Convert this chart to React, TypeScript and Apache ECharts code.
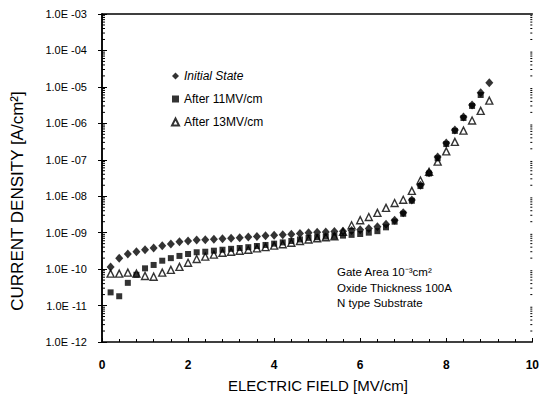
import React, { useEffect, useRef } from "react";
import * as echarts from "echarts";

const fieldX = [
  0.2, 0.4, 0.6, 0.8, 1.0, 1.2, 1.4, 1.6, 1.8, 2.0,
  2.2, 2.4, 2.6, 2.8, 3.0, 3.2, 3.4, 3.6, 3.8, 4.0,
  4.2, 4.4, 4.6, 4.8, 5.0, 5.2, 5.4, 5.6, 5.8, 6.0,
  6.2, 6.4, 6.6, 6.8, 7.0, 7.2, 7.4, 7.6, 7.8, 8.0,
  8.2, 8.4, 8.6, 8.8, 9.0,
];

const initialState = [
  1.15e-10, 2.0e-10, 2.6e-10, 3.0e-10, 3.4e-10, 3.8e-10, 4.4e-10, 4.9e-10, 5.6e-10, 5.9e-10,
  6.3e-10, 6.4e-10, 6.6e-10, 6.8e-10, 7.0e-10, 7.3e-10, 7.6e-10, 7.9e-10, 8.2e-10, 8.5e-10,
  8.8e-10, 9.1e-10, 9.5e-10, 1.0e-9, 1.02e-9, 1.05e-9, 1.08e-9, 1.1e-9, 1.15e-9, 1.2e-9,
  1.3e-9, 1.45e-9, 1.7e-9, 2.2e-9, 3.5e-9, 7.9e-9, 2.0e-8, 4.4e-8, 1.2e-7, 2.9e-7,
  6.6e-7, 1.5e-6, 3.2e-6, 6.9e-6, 1.3e-5,
];

const after11 = [
  2.3e-11, 1.8e-11, 4.2e-11, 7.0e-11, 1.05e-10, 1.3e-10, 1.7e-10, 2.0e-10, 2.3e-10, 2.6e-10,
  2.9e-10, 3.0e-10, 3.2e-10, 3.4e-10, 3.6e-10, 3.8e-10, 4.0e-10, 4.3e-10, 4.6e-10, 5.0e-10,
  5.4e-10, 5.9e-10, 6.5e-10, 7.2e-10, 7.5e-10, 7.8e-10, 8.0e-10, 8.3e-10, 8.7e-10, 9.2e-10,
  1.0e-9, 1.1e-9, 1.4e-9, 2.0e-9, 3.3e-9, 7.5e-9, 1.9e-8, 4.2e-8, 1.1e-7, 2.7e-7,
  6.2e-7, 1.4e-6, 3.0e-6, 6.0e-6,
];

const after13 = [
  7.5e-11, 7.5e-11, 8.0e-11, 7.5e-11, 6.5e-11, 6.2e-11, 8.0e-11, 9.5e-11, 1.15e-10, 1.5e-10,
  1.9e-10, 2.2e-10, 2.5e-10, 2.8e-10, 3.0e-10, 3.2e-10, 3.4e-10, 3.7e-10, 4.0e-10, 4.4e-10,
  4.8e-10, 5.3e-10, 5.9e-10, 6.5e-10, 7.0e-10, 7.5e-10, 8.0e-10, 1.05e-9, 1.6e-9, 2.2e-9,
  2.7e-9, 3.5e-9, 4.8e-9, 6.5e-9, 8.0e-9, 1.4e-8, 2.7e-8, 4.7e-8, 8.9e-8, 1.7e-7,
  3.1e-7, 6.3e-7, 1.2e-6, 2.2e-6, 4.2e-6,
];

const seriesNames = ["Initial State", "After 11MV/cm", "After 13MV/cm"];
const yTickLabels = [
  "1.0E -12", "1.0E -11", "1.0E -10", "1.0E -09", "1.0E -08",
  "1.0E -07", "1.0E -06", "1.0E -05", "1.0E -04", "1.0E -03",
];
const xTickLabels = ["0", "2", "4", "6", "8", "10"];
const noteLines = ["Gate Area 10\u207B\u00B3cm\u00B2", "Oxide Thickness 100A", "N type Substrate"];

const FONT = "'Liberation Sans', Arial, sans-serif";

function pair(xs: number[], ys: number[]) {
  return ys.map((y, i) => [xs[i], y]);
}

export default function App() {
  const ref = useRef<HTMLDivElement>(null);
  useEffect(() => {
    if (!ref.current) return;
    const chart = echarts.init(ref.current, null, { renderer: "svg" });
    const minorTicks: number[][] = [];
    for (let e = -12; e < -3; e++) {
      for (let m = 2; m <= 9; m++) minorTicks.push([0, m * Math.pow(10, e)]);
    }
    const axisBlack = { lineStyle: { color: "#000", width: 1.5 } };
    chart.setOption({
      animation: false,
      backgroundColor: "#fff",
      grid: { left: 102, right: 7, top: 14, bottom: 57 },
      xAxis: [
        {
          type: "value",
          min: 0,
          max: 10,
          interval: 2,
          axisLine: axisBlack,
          axisTick: { inside: true, length: 4, lineStyle: { color: "#000" } },
          minorTick: { show: true, splitNumber: 5, length: 3, lineStyle: { color: "#000" } },
          splitLine: { show: false },
          axisLabel: {
            margin: 17,
            color: "#000",
            fontSize: 12,
            fontWeight: "bold",
            fontFamily: FONT,
            formatter: (v: number) => xTickLabels[Math.round(v / 2)],
          },
        },
        {
          type: "value",
          position: "top",
          min: 0,
          max: 10,
          axisLine: { show: true, onZero: false, lineStyle: { color: "#000", width: 1.5 } },
          axisTick: { show: false },
          axisLabel: { show: false },
          splitLine: { show: false },
        },
      ],
      yAxis: [
        {
          type: "log",
          logBase: 10,
          min: 1e-12,
          max: 1e-3,
          splitNumber: 9,
          axisLine: { show: true, lineStyle: { color: "#000", width: 1.5 } },
          axisTick: { show: true, inside: true, length: 5, lineStyle: { color: "#000" } },
          splitLine: { show: false },
          axisLabel: {
            margin: 15,
            color: "#000",
            fontSize: 11,
            fontFamily: FONT,
            formatter: (v: number) => yTickLabels[Math.round(Math.log10(v)) + 12],
          },
        },
        {
          type: "log",
          logBase: 10,
          position: "right",
          min: 1e-12,
          max: 1e-3,
          splitNumber: 9,
          axisLine: { show: true, lineStyle: { color: "#000", width: 1.5 } },
          axisTick: { show: true, inside: true, length: 4, lineStyle: { color: "#000" } },
          axisLabel: { show: false },
          splitLine: { show: false },
        },
      ],
      legend: {
        orient: "vertical",
        left: 166,
        top: 65,
        itemGap: 11,
        itemWidth: 7,
        itemHeight: 7,
        textStyle: { color: "#000", fontSize: 12, fontFamily: FONT },
        data: [
          { name: seriesNames[0], textStyle: { fontStyle: "italic" } },
          { name: seriesNames[1] },
          { name: seriesNames[2] },
        ],
      },
      graphic: [
        {
          type: "text",
          x: 17,
          y: 201,
          rotation: Math.PI / 2,
          style: {
            text: "CURRENT DENSITY [A/cm\u00B2]",
            font: `17px ${FONT}`,
            fill: "#000",
            align: "center",
            verticalAlign: "middle",
          },
        },
        {
          type: "text",
          x: 318,
          y: 385,
          style: {
            text: "ELECTRIC FIELD [MV/cm]",
            font: `15px ${FONT}`,
            fill: "#000",
            align: "center",
            verticalAlign: "middle",
          },
        },
        ...noteLines.map((t, i) => ({
          type: "text",
          x: 337,
          y: 272 + i * 15.5,
          style: { text: t, font: `11.5px ${FONT}`, fill: "#000", verticalAlign: "middle" },
        })),
      ],
      series: [
        {
          name: seriesNames[0],
          type: "scatter",
          symbol: "diamond",
          symbolSize: [8, 9],
          itemStyle: { color: "#000" },
          data: pair(fieldX, initialState),
          z: 3,
        },
        {
          name: seriesNames[1],
          type: "scatter",
          symbol: "rect",
          symbolSize: 6,
          itemStyle: { color: "#000" },
          data: pair(fieldX, after11),
          z: 4,
        },
        {
          name: seriesNames[2],
          type: "scatter",
          symbol: "triangle",
          symbolSize: 7,
          itemStyle: { color: "#fff", borderColor: "#000", borderWidth: 1.4 },
          data: pair(fieldX, after13),
          z: 2,
        },
        {
          type: "custom",
          silent: true,
          data: minorTicks,
          renderItem: (params: any, api: any) => {
            const y = api.value(1);
            const pl = api.coord([0, y]);
            const pr = api.coord([10, y]);
            return {
              type: "group",
              children: [
                { type: "line", shape: { x1: pl[0], y1: pl[1], x2: pl[0] + 3, y2: pl[1] }, style: { stroke: "#000", lineWidth: 1 } },
                { type: "line", shape: { x1: pr[0], y1: pr[1], x2: pr[0] - 2, y2: pr[1] }, style: { stroke: "#000", lineWidth: 1 } },
              ],
            };
          },
        },
      ],
    });
    return () => chart.dispose();
  }, []);
  return (
    <div
      ref={ref}
      style={{ position: "fixed", left: 0, top: 0, width: 542, height: 399 }}
    />
  );
}
